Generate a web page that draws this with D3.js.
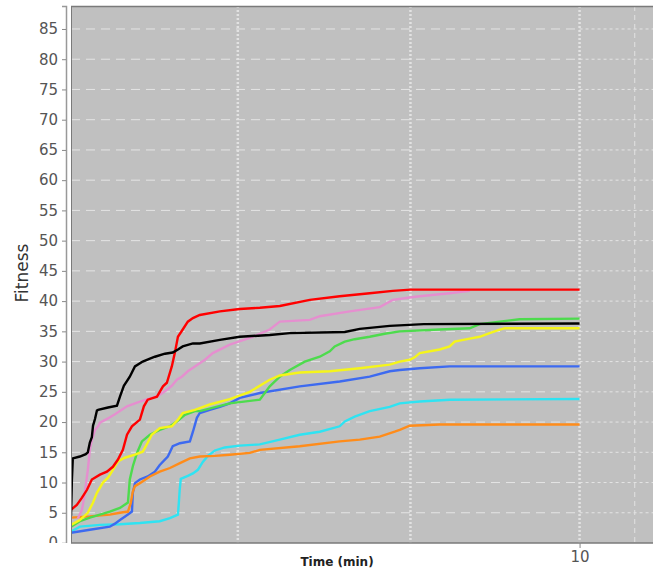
<!DOCTYPE html>
<html>
<head>
<meta charset="utf-8">
<script src="https://cdn.jsdelivr.net/npm/d3@7/dist/d3.min.js"></script>
<style>
  html, body { margin: 0; padding: 0; background: #ffffff; }
  svg { display: block; }
</style>
</head>
<body>
<svg id="chart" width="653" height="573"></svg>
<script>
// ---- Data (time in minutes, log axis; fitness values) ----
const seriesNames = ["cyan", "blue", "orange", "green", "yellow", "pink", "red", "black"];
const seriesColors = ["#2fe3f2", "#3d6af0", "#ff8c1a", "#4ddb4d", "#f5f51a", "#e58fcf", "#ff0000", "#000000"];

const cyanData = [[0.325,1.9],[0.345,2.7],[0.395,3.0],[0.452,3.1],[0.517,3.3],[0.591,3.6],[0.633,4.1],[0.668,4.7],[0.672,6.6],[0.676,8.8],[0.681,10.6],[0.714,11.1],[0.739,11.5],[0.764,12.1],[0.790,13.4],[0.817,14.4],[0.857,15.3],[0.916,15.8],[1.013,16.1],[1.160,16.3],[1.327,17.1],[1.518,17.9],[1.737,18.4],[1.987,19.3],[2.056,20.1],[2.198,20.9],[2.432,21.8],[2.783,22.5],[2.977,23.1],[3.406,23.4],[4.168,23.7],[10,23.8]];
const blueData = [[0.325,1.7],[0.369,2.2],[0.422,2.7],[0.437,3.2],[0.452,3.8],[0.477,4.7],[0.490,5.2],[0.493,8.3],[0.500,9.9],[0.517,10.5],[0.545,11.0],[0.572,11.8],[0.591,12.9],[0.624,14.3],[0.645,16.0],[0.677,16.5],[0.724,16.8],[0.739,18.4],[0.759,20.7],[0.774,21.5],[0.828,22.0],[0.886,22.5],[0.947,23.1],[1.013,24.0],[1.160,24.8],[1.518,25.9],[1.987,26.7],[2.432,27.5],[2.783,28.4],[2.977,28.6],[3.406,28.9],[4.168,29.2],[10,29.2]];
const orangeData = [[0.325,4.2],[0.369,4.4],[0.422,4.7],[0.452,5.0],[0.477,5.2],[0.486,6.6],[0.493,8.5],[0.500,9.4],[0.517,9.9],[0.553,11.0],[0.591,11.8],[0.633,12.4],[0.677,13.2],[0.724,14.0],[0.774,14.3],[0.857,14.4],[0.947,14.6],[1.084,14.9],[1.160,15.4],[1.518,16.0],[1.987,16.8],[2.274,17.1],[2.602,17.6],[2.878,18.4],[2.977,18.7],[3.184,19.4],[3.896,19.6],[10,19.6]];
const greenData = [[0.325,2.7],[0.345,3.6],[0.369,4.2],[0.395,4.7],[0.422,5.2],[0.452,5.8],[0.477,6.7],[0.483,10.5],[0.493,12.7],[0.507,14.9],[0.524,16.8],[0.553,17.9],[0.591,18.7],[0.633,19.3],[0.663,20.1],[0.700,21.2],[0.749,21.8],[0.774,21.8],[0.947,23.1],[1.160,23.7],[1.240,25.9],[1.327,27.5],[1.419,28.6],[1.570,30.0],[1.737,30.8],[1.858,31.7],[1.921,32.5],[2.056,33.3],[2.198,33.7],[2.432,34.1],[2.691,34.6],[2.977,35.0],[3.896,35.3],[4.769,35.5],[5.101,36.2],[5.836,36.6],[6.675,37.0],[10,37.1]];
const yellowData = [[0.325,3.0],[0.345,3.8],[0.364,5.0],[0.377,6.7],[0.387,8.3],[0.403,10.0],[0.417,10.8],[0.428,11.8],[0.446,13.5],[0.467,14.1],[0.500,14.6],[0.527,15.1],[0.545,16.6],[0.560,17.9],[0.591,19.0],[0.641,19.3],[0.668,20.4],[0.690,21.5],[0.749,22.0],[0.828,22.9],[0.947,23.8],[1.084,25.0],[1.240,27.0],[1.327,27.7],[1.518,28.2],[1.858,28.4],[2.274,28.9],[2.783,29.5],[2.977,30.0],[3.184,30.3],[3.293,30.7],[3.406,31.4],[3.896,32.0],[4.168,32.5],[4.310,33.3],[4.769,33.8],[5.101,34.1],[5.456,34.7],[5.836,35.3],[6.036,35.5],[10,35.5]];
const pinkData = [[0.340,4.0],[0.350,5.5],[0.355,7.5],[0.359,9.5],[0.364,12.1],[0.369,15.4],[0.374,17.0],[0.382,18.7],[0.390,19.3],[0.395,19.9],[0.417,20.6],[0.437,21.3],[0.474,22.6],[0.507,23.2],[0.545,23.8],[0.583,24.3],[0.612,25.1],[0.641,26.0],[0.663,27.0],[0.686,27.5],[0.714,28.4],[0.749,29.2],[0.801,30.3],[0.845,31.4],[0.947,32.8],[1.084,33.9],[1.240,35.3],[1.327,36.6],[1.624,36.9],[1.737,37.5],[2.126,38.3],[2.602,39.0],[2.840,40.2],[3.184,40.6],[3.406,40.8],[4.168,41.3],[4.769,41.7]];
const redData = [[0.325,5.5],[0.338,6.3],[0.350,7.5],[0.362,8.8],[0.374,10.5],[0.395,11.3],[0.414,11.8],[0.431,12.6],[0.446,13.8],[0.461,15.4],[0.474,17.9],[0.490,19.3],[0.517,20.4],[0.531,22.6],[0.545,23.7],[0.580,24.2],[0.604,25.9],[0.620,26.5],[0.641,29.2],[0.654,31.4],[0.668,34.1],[0.690,35.3],[0.714,36.6],[0.739,37.2],[0.774,37.7],[0.886,38.3],[1.013,38.7],[1.160,38.9],[1.327,39.2],[1.624,40.2],[1.987,40.8],[2.432,41.3],[2.840,41.7],[3.2,41.9],[10,41.9]];
const blackData = [[0.325,4.5],[0.327,10.5],[0.329,14.0],[0.345,14.3],[0.359,14.7],[0.364,15.0],[0.369,16.6],[0.374,17.5],[0.377,19.4],[0.382,20.5],[0.387,21.9],[0.390,22.0],[0.417,22.4],[0.443,22.7],[0.452,24.2],[0.464,26.0],[0.483,27.5],[0.500,29.2],[0.527,30.0],[0.553,30.5],[0.572,30.8],[0.612,31.3],[0.645,31.5],[0.668,32.0],[0.690,32.5],[0.739,33.0],[0.774,33.0],[0.886,33.6],[1.013,34.1],[1.240,34.4],[1.419,34.7],[2.056,34.9],[2.274,35.4],[2.783,35.9],[3.5,36.2],[10,36.3]];
const seriesData = [cyanData, blueData, orangeData, greenData, yellowData, pinkData, redData, blackData];

const yTicks = d3.range(0, 90, 5);
const xGridMajor = [1, 3.2, 10];
const xGridMinor = [14.5];
const xTickLabels = [10];
const xDomain = [0.325, 16.4];
const yDomain = [0, 88.8];

// ---- Layout ----
const svg = d3.select("#chart");
const plot = { left: 71, right: 653, top: 6, bottom: 543 };

const x = d3.scaleLog().domain(xDomain).range([plot.left, plot.right]);
const y = d3.scaleLinear().domain(yDomain).range([plot.bottom, plot.top]);

// plot background
svg.append("rect")
  .attr("x", plot.left).attr("y", plot.top)
  .attr("width", plot.right - plot.left).attr("height", plot.bottom - plot.top)
  .attr("fill", "#c0c0c0");

svg.append("clipPath").attr("id", "plotclip").append("rect")
  .attr("x", plot.left).attr("y", plot.top)
  .attr("width", plot.right - plot.left).attr("height", plot.bottom - plot.top);

const grid = svg.append("g").attr("clip-path", "url(#plotclip)");
const x10 = x(10);

// horizontal gridlines
yTicks.filter(d => d > 0).forEach(v => {
  grid.append("line")
    .attr("x1", plot.left).attr("x2", x10)
    .attr("y1", y(v)).attr("y2", y(v))
    .attr("stroke", "#e4e4e4").attr("stroke-width", 1)
    .attr("stroke-dasharray", "9,6");
  grid.append("line")
    .attr("x1", x10).attr("x2", plot.right)
    .attr("y1", y(v)).attr("y2", y(v))
    .attr("stroke", "#e4e4e4").attr("stroke-width", 1)
    .attr("stroke-dasharray", "3,3");
});

// vertical gridlines
xGridMajor.forEach(v => {
  grid.append("line")
    .attr("x1", x(v)).attr("x2", x(v))
    .attr("y1", plot.top).attr("y2", plot.bottom)
    .attr("stroke", "#e2e2e2").attr("stroke-width", 2.5)
    .attr("stroke-dasharray", "2,2");
});
xGridMinor.forEach(v => {
  grid.append("line")
    .attr("x1", x(v)).attr("x2", x(v))
    .attr("y1", plot.top).attr("y2", plot.bottom)
    .attr("stroke", "#e2e2e2").attr("stroke-width", 1)
    .attr("stroke-dasharray", "5,4");
});

// series
const line = d3.line().x(d => x(d[0])).y(d => y(d[1]));
const lines = svg.append("g").attr("clip-path", "url(#plotclip)");
seriesData.forEach((data, i) => {
  lines.append("path")
    .datum(data)
    .attr("d", line)
    .attr("fill", "none")
    .attr("stroke", seriesColors[i])
    .attr("stroke-width", 2.4)
    .attr("stroke-linejoin", "miter")
    .attr("class", "series-" + seriesNames[i]);
});

// plot borders
svg.append("line").attr("x1", plot.left).attr("x2", plot.right)
  .attr("y1", plot.top + 0.5).attr("y2", plot.top + 0.5)
  .attr("stroke", "#7a7a7a").attr("stroke-width", 1.5);
svg.append("line").attr("x1", plot.left).attr("x2", plot.right)
  .attr("y1", plot.bottom).attr("y2", plot.bottom)
  .attr("stroke", "#7a7a7a").attr("stroke-width", 1.5);
svg.append("line").attr("x1", plot.left + 0.5).attr("x2", plot.left + 0.5)
  .attr("y1", plot.top).attr("y2", plot.bottom)
  .attr("stroke", "#7a7a7a").attr("stroke-width", 1);

// y axis (offset left); labels clipped at the plot's bottom edge
svg.append("clipPath").attr("id", "yclip").append("rect")
  .attr("x", -70).attr("y", 0).attr("width", 72).attr("height", plot.bottom);
const yAxis = d3.axisLeft(y).tickValues(yTicks).tickSize(4).tickPadding(4);
const yg = svg.append("g")
  .attr("transform", "translate(66,0)")
  .attr("clip-path", "url(#yclip)")
  .call(yAxis);
yg.select(".domain").attr("stroke", "#999").attr("stroke-width", 1.5);
yg.selectAll(".tick line").attr("stroke", "#888");
yg.selectAll(".tick text")
  .attr("font-family", "DejaVu Sans, sans-serif")
  .attr("font-size", 15)
  .attr("fill", "#555");

// x axis
const xAxis = d3.axisBottom(x).tickValues(xTickLabels).tickSize(5).tickPadding(3)
  .tickFormat(d3.format("d"));
const xg = svg.append("g")
  .attr("transform", `translate(0,${plot.bottom})`)
  .call(xAxis);
xg.select(".domain").remove();
xg.selectAll(".tick line").attr("stroke", "#888");
xg.selectAll(".tick text")
  .attr("font-family", "DejaVu Sans, sans-serif")
  .attr("font-size", 15)
  .attr("fill", "#555");

// axis titles
svg.append("text")
  .attr("x", 337).attr("y", 566)
  .attr("text-anchor", "middle")
  .attr("font-family", "DejaVu Sans, sans-serif")
  .attr("font-weight", "bold")
  .attr("font-size", 12)
  .attr("fill", "#222")
  .text("Time (min)");

svg.append("text")
  .attr("transform", "translate(28,273) rotate(-90)")
  .attr("text-anchor", "middle")
  .attr("font-family", "DejaVu Sans, sans-serif")
  .attr("font-size", 17)
  .attr("fill", "#333")
  .text("Fitness");
</script>
</body>
</html>
